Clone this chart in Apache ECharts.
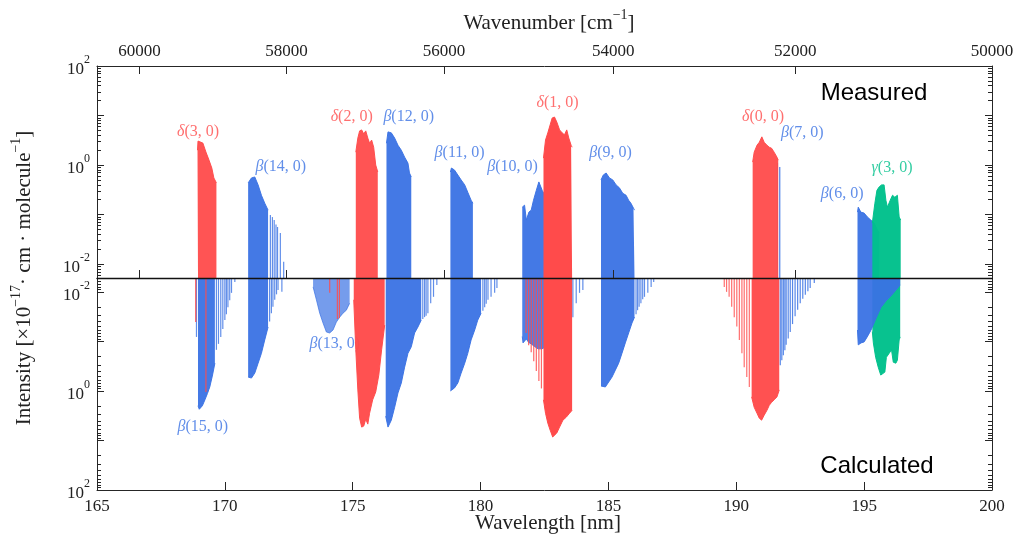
<!DOCTYPE html>
<html>
<head>
<meta charset="utf-8">
<script src="https://cdn.jsdelivr.net/npm/echarts@6/dist/echarts.min.js"></script>
<style>
html,body{margin:0;padding:0;background:#fff;}
#chart{width:1022px;height:541px;}
</style>
</head>
<body>
<div id="chart"></div>
<script>
// ---- axis ticks ----
const wavenumberTicks = [60000, 58000, 56000, 54000, 52000, 50000];   // cm^-1
const decadeTicks = [-2, -1, 0, 1, 2];                               // log10 intensity
const decadeLabels = [-2, 0, 2];

// ---- band data: [wavelength nm, log10 intensity] ----
// Measured (upper panel)
const d30_meas = [[168.93,0.30],[168.95,0.485],[169.02,0.465],[169.14,0.444],[169.26,0.263],[169.38,0.10],[169.49,-0.06],[169.57,-0.26],[169.67,-0.36]];
const b14_meas = [[170.91,-0.36],[171.04,-0.26],[171.17,-0.24],[171.30,-0.40],[171.43,-0.61],[171.56,-0.77],[171.69,-0.91]];
const b14_meas_lines = [[171.78,-1.01],[171.86,-1.05],[171.93,-1.11],[172.0,-1.2],[172.06,-1.25],[172.17,-1.37],[172.30,-1.95]];
const d20_meas = [[175.12,0.26],[175.20,0.545],[175.27,0.69],[175.35,0.71],[175.43,0.63],[175.51,0.69],[175.59,0.545],[175.66,0.44],[175.74,0.505],[175.82,0.36],[175.90,0.0],[175.98,-0.14]];
const b12_meas = [[176.32,0.44],[176.38,0.67],[176.51,0.65],[176.64,0.545],[176.77,0.40],[176.90,0.30],[177.03,0.16],[177.16,0.04],[177.22,-0.16],[177.29,-0.24]];
const b11_meas = [[178.82,-0.14],[178.86,-0.06],[178.98,-0.10],[179.11,-0.20],[179.24,-0.30],[179.38,-0.40],[179.50,-0.55],[179.63,-0.71],[179.70,-0.77]];
const b10_meas = [[181.63,-0.85],[181.72,-0.81],[181.79,-1.11],[181.89,-0.95],[181.98,-0.91],[182.07,-0.71],[182.18,-0.51],[182.28,-0.34],[182.33,-0.30],[182.41,-0.51],[182.50,-0.60]];
const d10_meas = [[182.46,0.14],[182.54,0.505],[182.63,0.65],[182.72,0.81],[182.80,0.95],[182.89,0.97],[182.98,0.87],[183.09,0.71],[183.19,0.65],[183.28,0.61],[183.37,0.71],[183.45,0.545],[183.54,0.40],[183.58,0.36]];
const b9_meas = [[184.71,-0.30],[184.80,-0.20],[184.91,-0.16],[185.04,-0.26],[185.17,-0.30],[185.30,-0.40],[185.43,-0.46],[185.56,-0.57],[185.69,-0.61],[185.79,-0.71],[185.88,-0.77],[185.98,-0.87],[186.02,-0.91]];
const d00_meas = [[190.64,0.06],[190.70,0.26],[190.81,0.40],[190.90,0.46],[191.00,0.57],[191.09,0.46],[191.20,0.40],[191.29,0.36],[191.38,0.34],[191.48,0.26],[191.59,0.16],[191.64,0.10]];
const b7_meas_lines = [[191.61,0.04],[191.70,-0.04]];
const b6_meas = [[194.74,-0.95],[194.77,-0.85],[194.87,-0.95],[195.00,-0.97],[195.13,-1.05],[195.26,-1.11],[195.39,-1.17],[195.52,-1.31],[195.59,-1.37]];
const g3_meas = [[195.32,-1.17],[195.42,-0.77],[195.50,-0.51],[195.59,-0.44],[195.68,-0.40],[195.78,-0.40],[195.85,-0.71],[195.91,-0.85],[196.02,-0.71],[196.11,-0.61],[196.20,-0.65],[196.30,-0.61],[196.37,-1.05],[196.43,-1.11]];

// Calculated (lower panel)
const b15_calc = [[168.95,0.30],[169.0,0.37],[169.02,0.37],[169.12,0.30],[169.22,0.18],[169.32,0.05],[169.41,-0.08],[169.51,-0.30],[169.61,-0.56]];
const b15_calc_lines = [[168.89,-1.09],[169.67,-0.83],[169.75,-0.95],[169.84,-1.09],[169.92,-1.25],[170.0,-1.43],[170.06,-1.55],[170.12,-1.69],[170.19,-1.83],[170.26,-1.98],[170.39,-2.2]];
const d30_calc_lines = [[168.86,-1.39],[169.26,0.02]];
const b14_calc = [[170.91,-0.28],[171.04,-0.26],[171.17,-0.36],[171.30,-0.56],[171.43,-0.76],[171.56,-1.03],[171.69,-1.29]];
const b14_calc_lines = [[171.75,-1.4],[171.82,-1.57],[171.88,-1.7],[171.95,-1.84],[172.02,-1.95],[172.08,-2.04],[172.23,-2.0]];
const b13_calc = [[173.45,-2.10],[173.58,-1.84],[173.71,-1.57],[173.84,-1.37],[173.97,-1.19],[174.10,-1.17],[174.23,-1.23],[174.36,-1.39],[174.49,-1.49],[174.62,-1.57],[174.75,-1.63],[174.88,-1.77]];
const d20_calc_lines = [[174.10,-1.98],[174.40,-1.45],[174.48,-1.47]];
const d20_calc = [[175.04,-1.84],[175.12,-0.83],[175.20,-0.02],[175.27,0.55],[175.35,0.73],[175.43,0.71],[175.51,0.57],[175.59,0.67],[175.66,0.45],[175.78,0.18],[175.90,0.02],[176.02,-0.32],[176.13,-0.83],[176.25,-1.33]];
const b12_calc = [[176.29,0.51],[176.38,0.73],[176.51,0.59],[176.64,0.33],[176.77,0.04],[176.90,-0.16],[177.03,-0.48],[177.16,-0.76],[177.29,-0.89],[177.42,-1.17],[177.55,-1.29],[177.68,-1.43]];
const b12_calc_lines = [[177.74,-1.45],[177.81,-1.49],[177.87,-1.52],[177.94,-1.57],[178.05,-1.77],[178.16,-1.90],[178.29,-2.14]];
const b11_calc = [[178.82,0.0],[178.86,0.02],[178.98,-0.06],[179.11,-0.16],[179.24,-0.36],[179.38,-0.56],[179.50,-0.76],[179.63,-1.03],[179.77,-1.23],[179.89,-1.43],[180.02,-1.57]];
const b11_calc_lines = [[180.09,-1.62],[180.16,-1.69],[180.22,-1.76],[180.29,-1.84],[180.41,-1.90],[180.55,-1.98],[180.64,-2.08]];
const b10_calc = [[181.63,-1.1],[181.66,-0.97],[181.72,-1.0],[181.79,-1.05],[181.88,-0.98],[181.98,-0.95],[182.1,-0.9],[182.25,-0.85],[182.4,-0.85],[182.6,-0.9],[182.8,-1.0],[183.0,-1.1],[183.2,-1.2],[183.4,-1.35],[183.55,-1.45]];
const b10_calc_lines = [[183.61,-1.49],[183.74,-1.77],[183.87,-1.98],[184.0,-2.04]];
const d10_calc_lines = [[181.78,-1.17],[181.88,-0.92],[181.98,-0.78],[182.08,-0.6],[182.18,-0.4],[182.28,-0.2],[182.38,-0.05]];
const d10_calc = [[182.46,0.18],[182.54,0.45],[182.63,0.65],[182.72,0.79],[182.82,0.93],[182.89,0.95],[182.98,0.85],[183.09,0.73],[183.22,0.59],[183.35,0.53],[183.48,0.45],[183.58,0.39]];
const b9_calc = [[184.71,-0.10],[184.75,-0.06],[184.88,-0.08],[185.01,-0.18],[185.14,-0.28],[185.27,-0.42],[185.40,-0.56],[185.53,-0.76],[185.66,-0.97],[185.79,-1.17],[185.92,-1.37],[186.02,-1.49]];
const b9_calc_lines = [[186.08,-1.55],[186.14,-1.63],[186.2,-1.7],[186.27,-1.77],[186.34,-1.85],[186.41,-1.90],[186.54,-1.98],[186.67,-2.10],[186.77,-2.20]];
const d00_calc_lines = [[189.53,-2.10],[189.62,-2.0],[189.72,-1.9],[189.82,-1.7],[189.92,-1.49],[190.02,-1.3],[190.12,-1.03],[190.22,-0.76],[190.31,-0.48],[190.41,-0.28],[190.51,-0.08]];
const d00_calc = [[190.60,0.12],[190.70,0.33],[190.81,0.45],[190.90,0.55],[190.99,0.59],[191.09,0.49],[191.20,0.39],[191.29,0.29],[191.38,0.23],[191.48,0.18],[191.59,0.12],[191.68,-0.02]];
const b7_calc_lines = [[191.72,-0.52],[191.78,-0.62],[191.84,-0.72],[191.90,-0.82],[191.95,-0.93],[192.03,-1.06],[192.11,-1.19],[192.2,-1.35],[192.30,-1.51],[192.4,-1.64],[192.50,-1.77],[192.6,-1.86],[192.70,-1.94],[192.8,-2.01],[192.89,-2.08],[193.05,-2.18]];
const b6_calc = [[194.74,-1.23],[194.77,-0.93],[194.88,-0.97],[195.00,-0.99],[195.12,-1.09],[195.27,-1.23],[195.47,-1.47],[195.66,-1.69],[195.86,-1.82],[196.05,-1.92],[196.25,-2.04],[196.41,-2.14]];
const g3_calc = [[195.32,-1.2],[195.36,-0.97],[195.45,-0.68],[195.55,-0.48],[195.65,-0.32],[195.71,-0.28],[195.81,-0.38],[195.87,-0.68],[195.98,-0.76],[196.07,-0.83],[196.14,-0.58],[196.24,-0.56],[196.30,-0.62],[196.37,-1.03],[196.41,-1.09]];

// band labels: [text, wavelength, log10 intensity, panel]
const bandLabels = [
  ['δ(3, 0)', 168.95, 0.67, 'm'], ['β(14, 0)', 172.19, -0.04, 'm'],
  ['δ(2, 0)', 174.96, 0.97, 'm'], ['β(12, 0)', 177.19, 0.97, 'm'],
  ['β(11, 0)', 179.18, 0.24, 'm'], ['β(10, 0)', 181.25, -0.04, 'm'],
  ['δ(1, 0)', 183.01, 1.25, 'm'], ['β(9, 0)', 185.08, 0.24, 'm'],
  ['δ(0, 0)', 191.05, 0.97, 'm'], ['β(7, 0)', 192.58, 0.65, 'm'],
  ['β(6, 0)', 194.14, -0.57, 'm'], ['γ(3, 0)', 196.09, -0.06, 'm'],
  ['β(15, 0)', 169.14, 0.73, 'c'], ['β(13, 0)', 174.30, -0.95, 'c']
];

// ---- styling ----
const RED = '#ff4b4b', BLUE = '#3a72e4', GREEN = '#00c08b';
const AX = '#262626';
const SERIF = '"Liberation Serif", "DejaVu Serif", serif';
const SANS = '"Liberation Sans", Arial, sans-serif';
const Y_MIN = -2.28, Y_MAX = 2;

const minorTicks = [];
for (let d = -3; d <= 1; d++) {
  for (let k = 2; k <= 9; k++) {
    const v = d + Math.log10(k);
    if (v > Y_MIN && v < Y_MAX) minorTicks.push(v);
  }
}
const wnPos = wavenumberTicks.map(w => 1e7 / w);

const AXIS_IDX = { m: [0, 0], c: [2, 4] };

function area(data, color, panel, opacity) {
  const [xi, yi] = AXIS_IDX[panel];
  return {
    type: 'line', data, xAxisIndex: xi, yAxisIndex: yi, symbol: 'none', silent: true,
    lineStyle: { color, width: 1, opacity },
    areaStyle: { color, opacity, origin: 'start' }
  };
}
function lines(data, color, panel, opacity) {
  const [xi, yi] = AXIS_IDX[panel];
  return {
    type: 'custom', data, xAxisIndex: xi, yAxisIndex: yi, silent: true, clip: true,
    encode: { x: 0, y: 1 },
    renderItem(params, api) {
      const top = api.coord([api.value(0), api.value(1)]);
      const base = api.coord([api.value(0), Y_MIN]);
      return {
        type: 'line',
        shape: { x1: top[0], y1: base[1], x2: top[0], y2: top[1] },
        style: { stroke: color, lineWidth: 1.2, opacity }
      };
    }
  };
}

const bandColor = t => t[0] === 'δ' ? RED : (t[0] === 'γ' ? GREEN : BLUE);
function labelSeries(panel) {
  const [xi, yi] = AXIS_IDX[panel];
  return {
    type: 'scatter', xAxisIndex: xi, yAxisIndex: yi, silent: true,
    symbolSize: 1, itemStyle: { color: 'rgba(0,0,0,0)' },
    data: bandLabels.filter(b => b[3] === panel).map(b => ({
      name: b[0], value: [b[1], b[2]], label: { color: bandColor(b[0]) }
    })),
    label: {
      show: true, position: 'inside',
      formatter: p => '{g|' + p.name.charAt(0) + '}{t|' + p.name.slice(1) + '}',
      rich: {
        g: { fontFamily: SERIF, fontSize: 16, fontStyle: 'italic' },
        t: { fontFamily: SERIF, fontSize: 16 }
      }
    }
  };
}

// drawing order: labels at the back, then each band in list order
const bandSeries = [
  // measured: blue, then red, then green
  area(b14_meas, BLUE, 'm', 0.95), lines(b14_meas_lines, BLUE, 'm', 0.8),
  area(b12_meas, BLUE, 'm', 0.95), area(b11_meas, BLUE, 'm', 0.95),
  area(b10_meas, BLUE, 'm', 0.95), area(b9_meas, BLUE, 'm', 0.95),
  lines(b7_meas_lines, BLUE, 'm', 0.9), area(b6_meas, BLUE, 'm', 0.95),
  area(d30_meas, RED, 'm', 0.95), area(d20_meas, RED, 'm', 0.95),
  area(d10_meas, RED, 'm', 1), area(d00_meas, RED, 'm', 0.95),
  area(g3_meas, GREEN, 'm', 0.97),
  // calculated: blue, red, green, then the beta(6,0) band on top
  area(b15_calc, BLUE, 'c', 0.95), lines(b15_calc_lines, BLUE, 'c', 0.8),
  area(b14_calc, BLUE, 'c', 0.95), lines(b14_calc_lines, BLUE, 'c', 0.8),
  area(b13_calc, BLUE, 'c', 0.7),
  area(b12_calc, BLUE, 'c', 0.95), lines(b12_calc_lines, BLUE, 'c', 0.8),
  area(b11_calc, BLUE, 'c', 0.95), lines(b11_calc_lines, BLUE, 'c', 0.8),
  area(b10_calc, BLUE, 'c', 0.9), lines(b10_calc_lines, BLUE, 'c', 0.8),
  area(b9_calc, BLUE, 'c', 0.95), lines(b9_calc_lines, BLUE, 'c', 0.8),
  lines(b7_calc_lines, BLUE, 'c', 0.85),
  lines(d30_calc_lines, RED, 'c', 0.9), lines(d20_calc_lines, RED, 'c', 0.85),
  area(d20_calc, RED, 'c', 0.97), lines(d10_calc_lines, RED, 'c', 0.85),
  area(d10_calc, RED, 'c', 1), lines(d00_calc_lines, RED, 'c', 0.8),
  area(d00_calc, RED, 'c', 0.97),
  area(g3_calc, GREEN, 'c', 0.97), area(b6_calc, BLUE, 'c', 0.95)
];
const series = [labelSeries('m'), labelSeries('c')].map(s => Object.assign(s, { z: 1 }))
  .concat(bandSeries.map((s, i) => Object.assign(s, { z: 2 + i })));

const yLabel = {
  fontFamily: SERIF, color: '#222', margin: 7,
  formatter: v => '{b|10}{s|' + Math.round(v) + '}',
  rich: {
    b: { fontFamily: SERIF, fontSize: 17, lineHeight: 24, verticalAlign: 'bottom', color: '#222' },
    s: { fontFamily: SERIF, fontSize: 12, lineHeight: 12, verticalAlign: 'top', color: '#222' }
  }
};
function yAx(grid, pos, major, inverse) {
  return {
    type: 'value', gridIndex: grid, position: pos, min: Y_MIN, max: Y_MAX, inverse,
    splitLine: { show: false },
    axisLine: { show: major, onZero: false, lineStyle: { color: AX, width: 1 } },
    axisTick: { show: true, inside: true, length: major ? 7 : 4,
      customValues: major ? decadeTicks : minorTicks, lineStyle: { color: AX } },
    axisLabel: Object.assign({ show: major && pos === 'left', customValues: decadeLabels }, yLabel),
    z: 100
  };
}
const xBase = { type: 'value', min: 165, max: 200, splitLine: { show: false }, z: 100 };
const tickFont = { fontFamily: SERIF, fontSize: 17, color: '#222' };

const option = {
  animation: false,
  backgroundColor: '#fff',
  grid: [
    { left: 97, right: 30, top: 66, height: 212, outerBoundsMode: 'none' },
    { left: 97, right: 30, top: 278, height: 212, outerBoundsMode: 'none' }
  ],
  xAxis: [
    Object.assign({}, xBase, { gridIndex: 0, position: 'top',
      axisLine: { onZero: false, lineStyle: { color: AX, width: 1 } },
      axisTick: { inside: true, length: 8, customValues: wnPos, lineStyle: { color: AX } },
      axisLabel: Object.assign({ customValues: wnPos, margin: 6,
        formatter: v => String(Math.round(1e7 / v)) }, tickFont) }),
    Object.assign({}, xBase, { gridIndex: 0, position: 'bottom',
      axisLine: { onZero: false, lineStyle: { color: '#111', width: 1.4 } },
      axisTick: { inside: true, length: 8, customValues: wnPos, lineStyle: { color: AX } },
      axisLabel: { show: false } }),
    Object.assign({}, xBase, { gridIndex: 1, position: 'bottom', interval: 5,
      axisLine: { onZero: false, lineStyle: { color: AX, width: 1 } },
      axisTick: { inside: true, length: 8, lineStyle: { color: AX } },
      axisLabel: Object.assign({ margin: 8, showMinLabel: true, showMaxLabel: true }, tickFont) }),
    Object.assign({}, xBase, { gridIndex: 1, position: 'top',
      axisLine: { show: false, onZero: false }, axisTick: { show: false }, axisLabel: { show: false } })
  ],
  yAxis: [
    yAx(0, 'left', true, false), yAx(0, 'left', false, false),
    yAx(0, 'right', true, false), yAx(0, 'right', false, false),
    yAx(1, 'left', true, true), yAx(1, 'left', false, true),
    yAx(1, 'right', true, true), yAx(1, 'right', false, true)
  ],
  series,
  graphic: [
    { type: 'text', x: 874, y: 93, z: 200, style: { text: 'Measured', fontFamily: SANS, fontSize: 24,
      fill: '#000', textAlign: 'center', textVerticalAlign: 'middle' } },
    { type: 'text', x: 877, y: 466, z: 200, style: { text: 'Calculated', fontFamily: SANS, fontSize: 24,
      fill: '#000', textAlign: 'center', textVerticalAlign: 'middle' } },
    { type: 'text', x: 548, y: 523, z: 200, style: { text: 'Wavelength [nm]', fontFamily: SERIF, fontSize: 21,
      fill: '#222', textAlign: 'center', textVerticalAlign: 'middle' } },
    { type: 'text', x: 549, y: 21, z: 200, style: {
      text: '{r|Wavenumber [cm}{s|−1}{r|]}', textAlign: 'center', textVerticalAlign: 'middle',
      rich: { r: { fontFamily: SERIF, fontSize: 21, fill: '#222', lineHeight: 26, verticalAlign: 'bottom' },
              s: { fontFamily: SERIF, fontSize: 14, fill: '#222', lineHeight: 14, verticalAlign: 'top' } } } },
    { type: 'text', x: 22, y: 278, z: 200, rotation: Math.PI / 2, style: {
      text: '{r|Intensity [×10}{s|−17}{r|· cm · molecule}{s|−1}{r|]}', textAlign: 'center', textVerticalAlign: 'middle',
      rich: { r: { fontFamily: SERIF, fontSize: 21, fill: '#222', lineHeight: 26, verticalAlign: 'bottom' },
              s: { fontFamily: SERIF, fontSize: 14, fill: '#222', lineHeight: 14, verticalAlign: 'top' } } } }
  ]
};

const chart = echarts.init(document.getElementById('chart'));
chart.setOption(option);
</script>
</body>
</html>
